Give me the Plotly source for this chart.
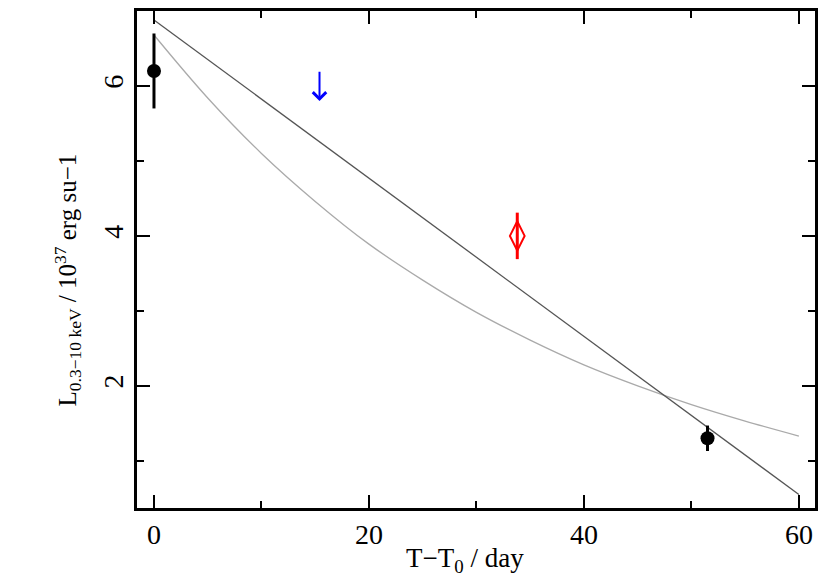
import plotly.graph_objects as go

# detections (black points)
det_t = [0.0, 51.5]
det_L = [6.2, 1.3]
det_err = [0.5, 0.17]

# upper limit (blue arrow)
lim_t = [15.4]
lim_top = [6.21]
lim_tip = [5.80]

# red diamond point
red_t = [33.8]
red_L = [4.0]
red_err = [0.31]

# linear decline model
lin_t = [0, 60]
lin_L = [6.88, 0.55]

# exponential decline model
exp_t = [0, 5, 10, 15, 20, 25, 30, 35, 40, 45, 50, 55, 60]
exp_L = [6.68, 5.84, 5.10, 4.46, 3.89, 3.41, 2.98, 2.61, 2.28, 2.0, 1.75, 1.53, 1.33]

x_title = "T−T<sub>0</sub> / day"
y_title = "L<sub>0.3−10 keV</sub> / 10<sup>37</sup> erg su−1"

serif = "Liberation Serif"

fig = go.Figure()

fig.add_trace(go.Scatter(
    x=exp_t, y=exp_L, mode="lines", line=dict(color="#aaaaaa", width=1.3, shape="spline"),
    showlegend=False, hoverinfo="skip"))
fig.add_trace(go.Scatter(
    x=lin_t, y=lin_L, mode="lines", line=dict(color="#555555", width=1.3),
    showlegend=False, hoverinfo="skip"))

fig.add_trace(go.Scatter(
    x=det_t, y=det_L, mode="markers",
    marker=dict(color="black", size=14, symbol="circle"),
    error_y=dict(type="data", array=det_err, color="black", thickness=3, width=0),
    showlegend=False))

fig.add_trace(go.Scatter(
    x=red_t, y=red_L, mode="markers",
    marker=dict(color="red", size=21, symbol="diamond-tall-open", line=dict(color="red", width=2)),
    error_y=dict(type="data", array=red_err, color="red", thickness=3, width=0),
    showlegend=False))

for t, top, tip in zip(lim_t, lim_top, lim_tip):
    fig.add_annotation(
        x=t, y=tip, ax=t, ay=top, xref="x", yref="y", axref="x", ayref="y",
        text="", showarrow=True, arrowhead=4, arrowsize=1.3, arrowwidth=2,
        arrowcolor="blue")

# axis titles as annotations so they can sit off-centre like the original
fig.add_annotation(
    text=x_title, xref="paper", yref="paper", x=0.5, y=0, xshift=-11, yshift=-52,
    xanchor="center", yanchor="middle", showarrow=False,
    font=dict(family=serif, size=27, color="black"))
fig.add_annotation(
    text=y_title, xref="paper", yref="paper", x=0, y=0.5, xshift=-70, yshift=-21,
    xanchor="center", yanchor="middle", textangle=-90, showarrow=False,
    font=dict(family=serif, size=25, color="black"))

axis_common = dict(
    showline=True, linewidth=2.5, linecolor="black", mirror="ticks",
    ticks="inside", ticklen=13, tickwidth=2, tickcolor="black",
    showgrid=False, zeroline=False,
    tickfont=dict(family=serif, size=28, color="black"),
)

fig.update_xaxes(
    range=[-1.58, 61.5], tickvals=[0, 20, 40, 60],
    minor=dict(ticks="inside", ticklen=7, tickwidth=2, tickcolor="black",
               tickvals=[10, 30, 50], showgrid=False),
    **axis_common)
fig.update_yaxes(
    range=[0.37, 7.0], tickvals=[2, 4, 6], tickangle=-90,
    minor=dict(ticks="inside", ticklen=7, tickwidth=2, tickcolor="black",
               tickvals=[1, 3, 5, 7], showgrid=False),
    **axis_common)

fig.update_layout(
    width=822, height=573,
    margin=dict(l=129, r=15, t=0, b=73),
    plot_bgcolor="white", paper_bgcolor="white",
    font=dict(family=serif, color="black"),
)

fig.write_html("out.html")
